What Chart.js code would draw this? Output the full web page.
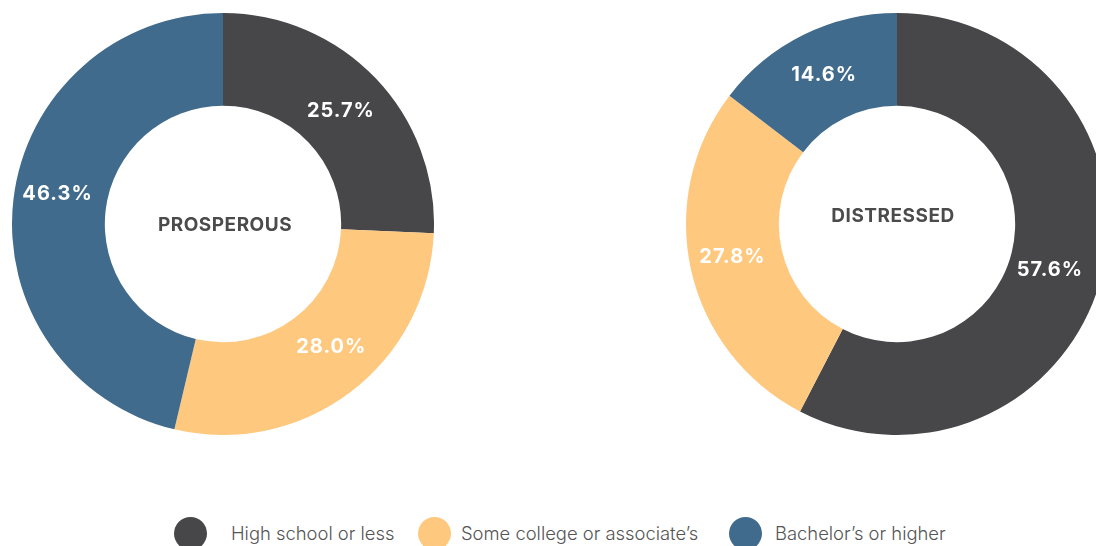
<!DOCTYPE html>
<html>
<head>
<meta charset="utf-8">
<script src="https://cdn.jsdelivr.net/npm/chart.js@4"></script>
<style>
  html, body { margin:0; padding:0; width:1096px; height:546px; overflow:hidden; background:#fff; }
  .box { position:absolute; top:13px; width:422px; height:422px; }
  .sw { position:absolute; top:517px; width:33px; height:33px; border-radius:50%; }
  .lt { position:absolute; top:522px; font-family:Inter, sans-serif; font-weight:300; font-size:18.4px; line-height:22px; color:#555; white-space:nowrap; }
</style>
</head>
<body>
<div class="box" style="left:12px"><canvas id="c1" width="422" height="422"></canvas></div>
<div class="box" style="left:686px"><canvas id="c2" width="422" height="422"></canvas></div>
<div id="legend"></div>
<script>
const categories = ["High school or less", "Some college or associate\u2019s", "Bachelor\u2019s or higher"];
const prosperousValues = [25.7, 28.0, 46.3];
const distressedValues = [57.6, 27.8, 14.6];
const groupTitles = ["PROSPEROUS", "DISTRESSED"];
const colors = ["#474648", "#FEC87F", "#406B8D"];

const labelPlugin = {
  id: 'sliceLabels',
  afterDatasetsDraw(chart, args, opts) {
    const ctx = chart.ctx;
    const meta = chart.getDatasetMeta(0);
    ctx.save();
    ctx.fillStyle = '#fff';
    ctx.font = 'bold 20px Inter, sans-serif';
    ctx.letterSpacing = '1px';
    ctx.textAlign = 'center';
    ctx.textBaseline = 'middle';
    meta.data.forEach((arc, i) => {
      const p = arc.tooltipPosition();
      const v = chart.data.datasets[0].data[i];
      const o = opts.nudge[i];
      ctx.fillText(v.toFixed(1) + '%', p.x + o[0], p.y + o[1]);
    });
    const a = meta.data[0];
    ctx.fillStyle = '#4B4B4B';
    ctx.font = 'bold 19px Inter, sans-serif';
    ctx.letterSpacing = '0.5px';
    ctx.fillText(opts.title, a.x + opts.dx, a.y + opts.dy);
    ctx.restore();
  }
};

function makeChart(id, values, title, dx, dy, nudge) {
  return new Chart(document.getElementById(id), {
    type: 'doughnut',
    data: {
      labels: categories,
      datasets: [{ data: values, backgroundColor: colors, borderWidth: 0, hoverOffset: 0 }]
    },
    options: {
      responsive: false,
      animation: false,
      cutout: '56%',
      layout: { padding: 0 },
      plugins: {
        legend: { display: false },
        tooltip: { enabled: false },
        sliceLabels: { title, dx, dy, nudge }
      }
    },
    plugins: [labelPlugin]
  });
}
makeChart('c1', prosperousValues, groupTitles[0], 2, 1, [[-1,1],[9,-8],[-2,-11]]);
makeChart('c2', distressedValues, groupTitles[1], -4, -8, [[-7,7],[-4,-3],[0,-1]]);

const lg = document.getElementById('legend');
const swLeft = [174, 418, 729];
const txtLeft = [231, 461, 775];
categories.forEach((c, i) => {
  const s = document.createElement('span'); s.className = 'sw'; s.style.background = colors[i]; s.style.left = swLeft[i] + 'px';
  const t = document.createElement('span'); t.className = 'lt'; t.textContent = c; t.style.left = txtLeft[i] + 'px';
  lg.appendChild(s); lg.appendChild(t);
});
</script>
</body>
</html>
